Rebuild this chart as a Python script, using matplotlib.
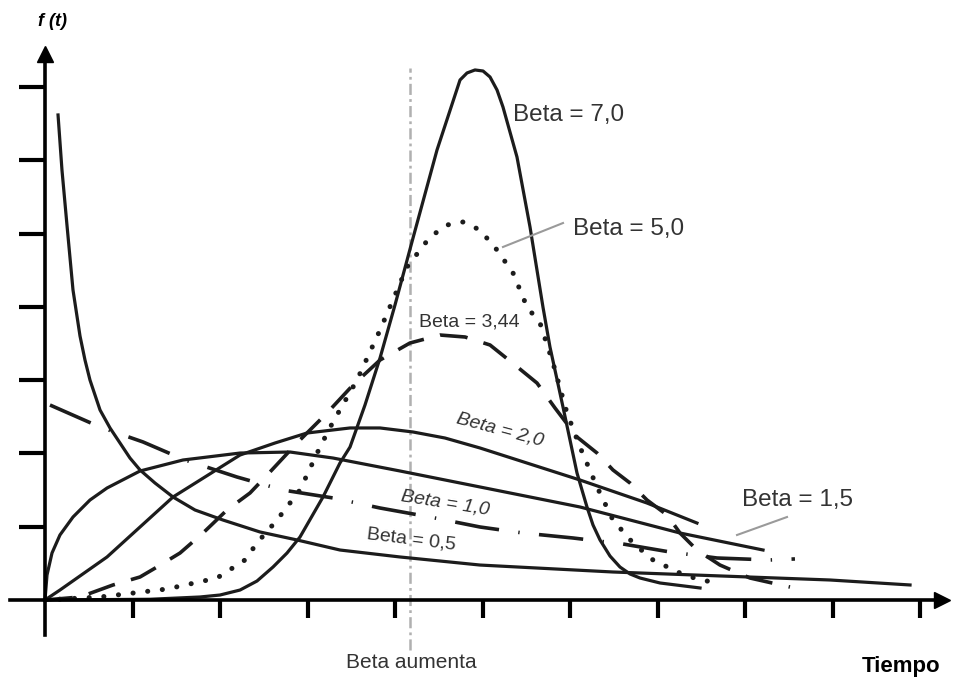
import numpy as np
import matplotlib
matplotlib.use("Agg")
import matplotlib.pyplot as plt

plt.rcParams['font.family'] = ['Liberation Sans', 'DejaVu Sans']
plt.rcParams['lines.scale_dashes'] = False
plt.rcParams['lines.solid_joinstyle'] = 'round'

# curvas de Weibull f(t) (t, f)
t_b05 = [0.149, 0.194, 0.251, 0.32, 0.4, 0.457, 0.514, 0.629, 0.743, 0.857, 0.971, 1.086,
         1.257, 1.463, 1.714, 2.034, 2.457, 2.88, 3.371, 4.057, 4.971, 6.491, 8.971, 9.886]
f_b05 = [6.617, 5.866, 5.116, 4.229, 3.602, 3.274, 3.001, 2.592, 2.347, 2.142, 1.937, 1.774,
         1.596, 1.405, 1.228, 1.091, 0.928, 0.819, 0.682, 0.587, 0.477, 0.382, 0.273, 0.205]

t_b10 = [0.057, 0.629, 1.12, 1.6, 2.194, 2.72, 3.291, 3.829, 4.4, 4.971, 5.463,
         6.034, 6.606, 7.143, 7.68, 8.286, 8.571]
f_b10 = [2.66, 2.36, 2.156, 1.91, 1.678, 1.5, 1.392, 1.255, 1.132, 0.996, 0.914,
         0.846, 0.764, 0.655, 0.573, 0.546, 0.56]

t_b15 = [0.0, 0.023, 0.08, 0.171, 0.32, 0.514, 0.709, 1.086, 1.577, 2.229, 2.8,
         3.291, 4.057, 4.971, 6.114, 7.257, 8.206]
f_b15 = [0.0, 0.341, 0.641, 0.887, 1.132, 1.364, 1.528, 1.76, 1.91, 2.005, 2.019,
         1.937, 1.76, 1.542, 1.269, 0.914, 0.682]

t_b20 = [0.0, 0.171, 0.709, 1.463, 2.229, 2.629, 2.994, 3.486, 3.829, 4.206, 4.571,
         4.971, 6.114, 6.88, 7.451]
f_b20 = [0.0, 0.136, 0.587, 1.405, 1.978, 2.142, 2.278, 2.347, 2.347, 2.292, 2.21,
         2.074, 1.637, 1.323, 1.05]

t_b344 = [0.0, 0.4, 0.777, 1.086, 1.28, 1.543, 1.806, 2.08, 2.343, 2.571, 2.88, 3.223,
          3.52, 3.829, 4.171, 4.514, 4.8, 5.086, 5.371, 5.623, 5.829, 6.08, 6.309,
          6.491, 6.686, 6.88, 7.109, 7.257, 7.451, 7.714, 8.057, 8.514]
f_b344 = [0.0, 0.041, 0.205, 0.314, 0.45, 0.641, 0.914, 1.228, 1.46, 1.746, 2.142, 2.551,
          2.933, 3.274, 3.506, 3.615, 3.588, 3.479, 3.206, 2.96, 2.619, 2.224, 2.005,
          1.774, 1.596, 1.364, 1.16, 0.914, 0.682, 0.477, 0.3, 0.177]

t_b50 = [0.0, 0.629, 1.394, 1.966, 2.286, 2.423, 2.651, 2.914, 3.143, 3.291, 3.566,
         3.829, 4.137, 4.4, 4.594, 4.777, 4.971, 5.166, 5.349, 5.509, 5.657, 5.806,
         5.966, 6.114, 6.309, 6.491, 6.72, 6.949, 7.257, 7.486, 7.714]
f_b50 = [0.0, 0.041, 0.15, 0.3, 0.546, 0.778, 1.091, 1.501, 2.087, 2.428, 3.001,
         3.683, 4.543, 4.952, 5.116, 5.157, 5.048, 4.775, 4.461, 3.997, 3.779, 3.233,
         2.551, 2.087, 1.542, 1.091, 0.778, 0.546, 0.368, 0.273, 0.232]

t_b70 = [0.0, 1.2, 1.771, 2.0, 2.229, 2.423, 2.606, 2.766, 2.914, 3.177, 3.371, 3.486,
         3.657, 3.829, 4.0, 4.206, 4.48, 4.743, 4.823, 4.914, 5.006, 5.086, 5.166,
         5.234, 5.394, 5.543, 5.691, 5.771, 5.92, 6.08, 6.137, 6.194, 6.263, 6.343,
         6.457, 6.571, 6.686, 6.8, 7.029, 7.486]
f_b70 = [0.0, 0.01, 0.041, 0.068, 0.136, 0.259, 0.45, 0.641, 0.859, 1.405, 1.869, 2.087,
         2.66, 3.302, 4.025, 4.939, 6.139, 7.094, 7.19, 7.231, 7.217, 7.135, 6.958,
         6.726, 6.044, 5.089, 3.997, 3.452, 2.633, 1.733, 1.501, 1.269, 1.023, 0.819,
         0.6, 0.45, 0.355, 0.3, 0.232, 0.164]

x_ticks = list(range(1, 11))
y_ticks = list(range(1, 8))

fig = plt.figure(figsize=(9.55, 6.91), dpi=100)
ax = fig.add_axes([0, 0, 1, 1])
ax.set_xlim(-45 / 87.5, 910 / 87.5)
ax.set_ylim(-91 / 73.3, 600 / 73.3)

# ejes con flechas
for s in ['top', 'right']:
    ax.spines[s].set_visible(False)
ax.spines['left'].set_position(('data', 0))
ax.spines['bottom'].set_position(('data', 0))
ax.spines['left'].set_bounds(-0.48, 7.45)
ax.spines['bottom'].set_bounds(-0.4, 10.25)
ax.spines['left'].set_linewidth(2.6)
ax.spines['bottom'].set_linewidth(2.6)
ax.set_xticks(x_ticks)
ax.set_yticks(y_ticks)
ax.set_xticklabels([])
ax.set_yticklabels([])
ax.tick_params(axis='x', direction='out', length=13, width=3)
ax.tick_params(axis='y', direction='out', length=19, width=3)
ax.plot(0, 7.45, marker='^', ms=12, color='k', clip_on=False)
ax.plot(10.25, 0, marker='>', ms=12, color='k', clip_on=False)

# linea vertical "Beta aumenta"
ax.plot([4.17, 4.17], [-0.68, 7.26], color='#b0b0b0', lw=1.8,
        linestyle=(0, (8, 3, 2, 3)))

c = '#1c1c1c'
ax.plot(t_b05, f_b05, color=c, lw=2.3)
ax.plot(t_b10, f_b10, color=c, lw=2.6, linestyle=(0, (32, 14, 1, 14)))
ax.plot(t_b15, f_b15, color=c, lw=2.3)
ax.plot(t_b20, f_b20, color=c, lw=2.3)
ax.plot(t_b344, f_b344, color=c, lw=2.6, linestyle=(0, (20, 12)))
ax.plot(t_b50, f_b50, color=c, lw=3.6, linestyle=(0, (0.1, 10.5)),
        dash_capstyle='round')
ax.plot(t_b70, f_b70, color=c, lw=2.3)

# etiquetas
tc = '#333333'
ax.text(5.349, 6.617, 'Beta = 7,0', fontsize=17.5, color=tc, ha='left', va='center')
ax.text(6.034, 5.061, 'Beta = 5,0', fontsize=17.5, color=tc, ha='left', va='center')
ax.plot([5.92, 5.234], [5.143, 4.816], color='#9a9a9a', lw=1.5)
ax.text(4.274, 3.793, 'Beta = 3,44', fontsize=14, color=tc, ha='left', va='center')
ax.text(5.2, 2.319, 'Beta = 2,0', fontsize=14, color=tc, ha='center', va='center',
        rotation=-15, style='italic')
ax.text(4.571, 1.323, 'Beta = 1,0', fontsize=14, color=tc, ha='center', va='center',
        rotation=-9, style='italic')
ax.text(4.183, 0.819, 'Beta = 0,5', fontsize=14, color=tc, ha='center', va='center',
        rotation=-7)
ax.text(7.966, 1.364, 'Beta = 1,5', fontsize=17.5, color=tc, ha='left', va='center')
ax.plot([8.48, 7.909], [1.132, 0.887], color='#9a9a9a', lw=1.5)

ax.text(0.091, 7.886, 'f (t)', fontsize=13, fontweight='bold', style='italic',
        ha='center', va='center')
ax.text(9.783, -0.914, 'Tiempo', fontsize=16, fontweight='bold', ha='center', va='center')
ax.text(4.183, -0.846, 'Beta aumenta', fontsize=15, color=tc, ha='center', va='center')

fig.savefig('out.png', dpi=100)
